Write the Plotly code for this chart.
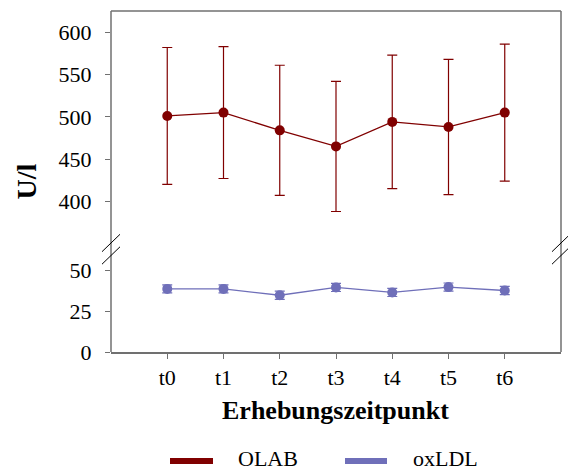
import plotly.graph_objects as go

categories = ["t0", "t1", "t2", "t3", "t4", "t5", "t6"]
olab_mean = [501, 505, 484, 465, 494, 488, 505]
olab_err = [81, 78, 77, 77, 79, 80, 81]
oxldl_mean = [38.8, 38.8, 34.9, 39.7, 36.6, 39.9, 37.8]
oxldl_err = [2.5, 2.5, 2.5, 2.5, 2.5, 2.5, 2.5]
upper_ticks = [400, 450, 500, 550, 600]
lower_ticks = [0, 25, 50]

RED = "#800000"
BLUE = "#6f6fb9"
AX = "#707070"
FONT = "Liberation Serif"

W, H = 568, 474
ML, MR, MT, MB = 111, 7, 11, 122
PW, PH = W - ML - MR, H - MT - MB


def px(x):
    return (x - ML) / PW


def py(y):
    return (H - MB - y) / PH


fig = go.Figure()
fig.add_trace(go.Scatter(
    x=categories, y=olab_mean, mode="lines+markers", yaxis="y2",
    line=dict(color=RED, width=1.3), marker=dict(color=RED, size=10),
    error_y=dict(type="data", array=olab_err, color=RED, thickness=1.2, width=5),
    showlegend=False, name="OLAB"))
fig.add_trace(go.Scatter(
    x=categories, y=oxldl_mean, mode="lines+markers", yaxis="y",
    line=dict(color=BLUE, width=1.3), marker=dict(color=BLUE, size=10),
    error_y=dict(type="data", array=oxldl_err, color=BLUE, thickness=1.2, width=5),
    showlegend=False, name="oxLDL"))

lower_top = py(255.2)
upper_bot = py(243)

fig.update_layout(
    width=W, height=H, margin=dict(l=ML, r=MR, t=MT, b=MB),
    paper_bgcolor="white", plot_bgcolor="white",
    font=dict(family=FONT, size=22, color="black"),
    xaxis=dict(range=[-1, 7], showgrid=False, zeroline=False, showline=True,
               linecolor=AX, linewidth=1.5, ticks="outside", ticklen=5,
               tickcolor=AX, tickwidth=1.2, anchor="y", ticklabelstandoff=0),
    yaxis=dict(domain=[0, lower_top], range=[0, 59.5], tickvals=lower_ticks,
               showgrid=False, zeroline=False, showline=False, ticks="outside",
               ticklen=5, tickcolor=AX, tickwidth=1.2, ticklabelstandoff=9),
    yaxis2=dict(domain=[upper_bot, 1], range=[350.7, 625.2], tickvals=upper_ticks,
                showgrid=False, zeroline=False, showline=False, ticks="outside",
                ticklen=5, tickcolor=AX, tickwidth=1.2, anchor="x",
                ticklabelstandoff=9),
)

shapes = []
# frame lines
for (x0, y0, x1, y1) in [(0, 0, 0, 1), (1, 0, 1, 1), (0, 1, 1, 1)]:
    shapes.append(dict(type="line", xref="paper", yref="paper", x0=x0, y0=y0,
                       x1=x1, y1=y1, line=dict(color=AX, width=1.5)))
# break marks
for cx in (111, 561):
    for cy in (243, 255.5):
        shapes.append(dict(type="line", xref="paper", yref="paper",
                           x0=px(cx - 9), y0=py(cy + 8.7), x1=px(cx + 9), y1=py(cy - 8.7),
                           line=dict(color="black", width=1)))
# legend samples
for (a, b, c) in [(170, 213, RED), (345, 387, BLUE)]:
    shapes.append(dict(type="line", xref="paper", yref="paper",
                       x0=px(a), x1=px(b), y0=py(461), y1=py(461),
                       line=dict(color=c, width=6)))
fig.update_layout(shapes=shapes)

annotations = [
    dict(text="<b>U/l</b>", xref="paper", yref="paper", x=px(26), y=py(181.5),
         textangle=-90, showarrow=False, font=dict(size=28), xanchor="center",
         yanchor="middle"),
    dict(text="<b>Erhebungszeitpunkt</b>", xref="paper", yref="paper", x=px(335),
         y=py(410), showarrow=False, font=dict(size=26), xanchor="center",
         yanchor="middle"),
    dict(text="OLAB", xref="paper", yref="paper", x=px(236), y=py(473),
         showarrow=False, font=dict(size=22), xanchor="left", yanchor="bottom"),
    dict(text="oxLDL", xref="paper", yref="paper", x=px(411), y=py(473),
         showarrow=False, font=dict(size=22), xanchor="left", yanchor="bottom"),
]
fig.update_layout(annotations=annotations)

fig.write_html("out.html")
